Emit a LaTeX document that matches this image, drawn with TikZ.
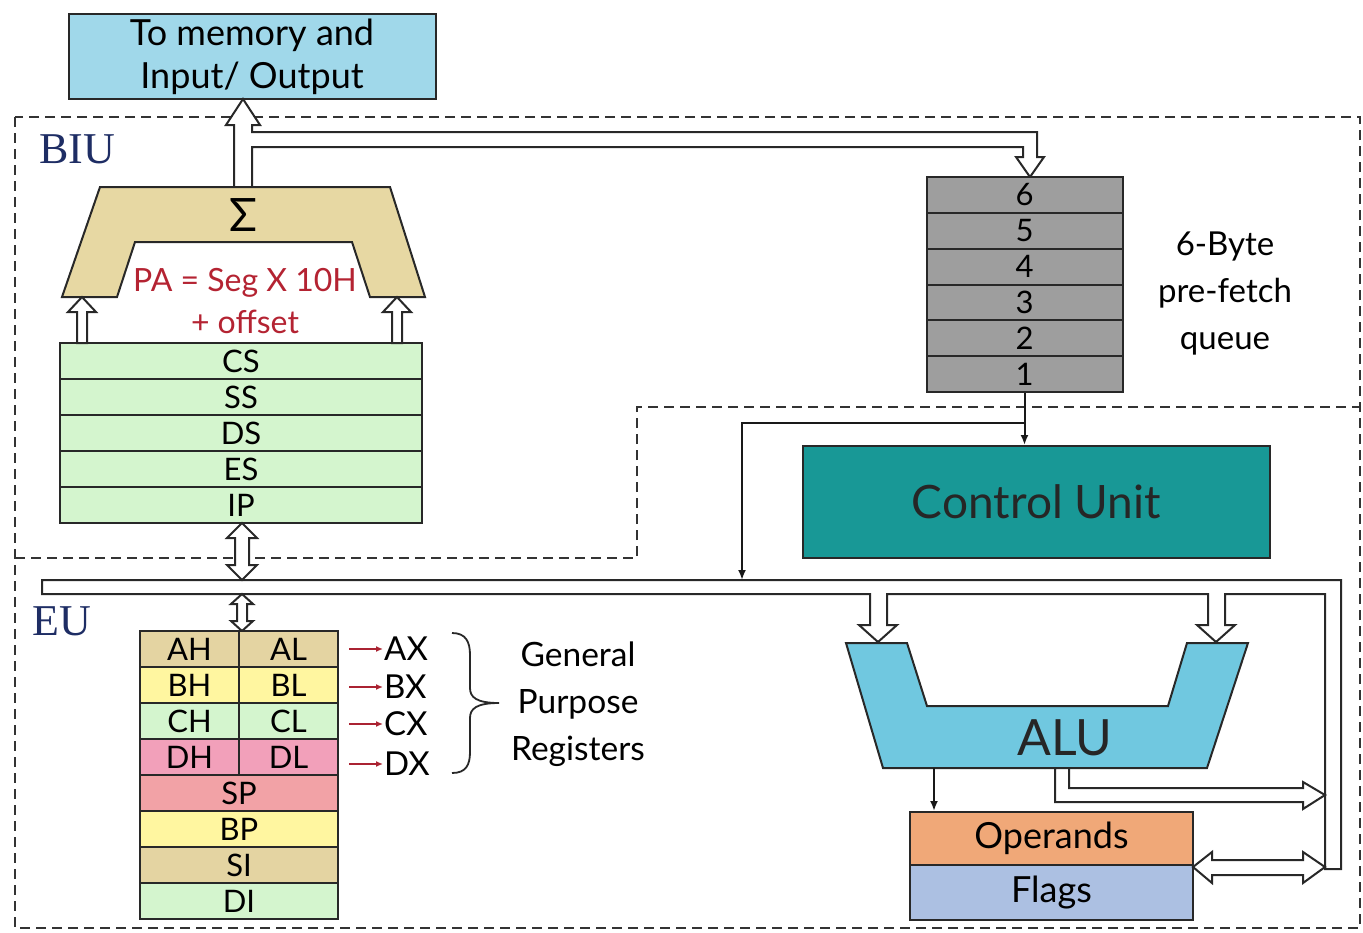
\documentclass[tikz,border=0pt]{standalone}
\usepackage{fontspec}
\setmainfont{Lato}
\newfontfamily\labelfont{Liberation Serif}
\usetikzlibrary{arrows.meta}

\definecolor{memblue}{RGB}{160,216,234}
\definecolor{addtan}{RGB}{231,216,163}
\definecolor{seggreen}{RGB}{212,245,206}
\definecolor{queuegray}{RGB}{158,158,158}
\definecolor{cuteal}{RGB}{24,152,150}
\definecolor{alublue}{RGB}{112,200,224}
\definecolor{opsorange}{RGB}{240,168,120}
\definecolor{flagblue}{RGB}{172,192,226}
\definecolor{regtan}{RGB}{228,212,162}
\definecolor{regyellow}{RGB}{255,246,160}
\definecolor{regpink}{RGB}{242,160,186}
\definecolor{regsalmon}{RGB}{242,162,166}
\definecolor{pared}{RGB}{180,35,50}
\definecolor{arrowred}{RGB}{170,35,50}
\definecolor{navy}{RGB}{30,45,100}
\definecolor{linegray}{RGB}{40,40,40}

\tikzset{
	unit/.style={draw=linegray, line width=2pt},
	reg/.style={unit, minimum height=36pt, inner sep=0pt, font=\fontsize{31}{31}\selectfont},
	hollow/.style={draw=linegray, fill=white, line width=2pt, line join=miter},
	frame/.style={draw=black!80, line width=2.2pt, dash pattern=on 10pt off 6pt},
	thinarrow/.style={draw=black!90, line width=2pt, -{Latex[length=10pt,width=8pt]}},
	redarrow/.style={draw=arrowred, line width=1.6pt, -{Latex[length=7pt,width=6pt]}},
	xlabel/.style={anchor=west, inner sep=1pt, font=\fontsize{33}{33}\selectfont},
}

\begin{document}
\begin{tikzpicture}[x=1pt,y=-1pt]
				\useasboundingbox (0,0) rectangle (1363,932);
				
				% unit borders
				\draw[frame] (15,117) rectangle (1360,928);
				\draw[frame] (15,558) -- (637,558) -- (637,407) -- (1360,407);
				
				\node[unit, fill=memblue, minimum width=367pt, minimum height=85pt, align=center, font=\fontsize{36}{43}\selectfont] (mem) at (252,56.5) {To memory and\\Input/ Output};
				
				\node[text=navy, font=\labelfont\fontsize{44}{44}\selectfont] (biu) at (77,149) {BIU};
				\node[text=navy, font=\labelfont\fontsize{44}{44}\selectfont] (eu) at (62,621) {EU};
				
				% address bus and queue bus
				\draw[hollow] (234,187) -- (234,125) -- (226,125) -- (243,99) -- (260,125) -- (252,125) -- (252,132) -- (1037,132) -- (1037,157) -- (1044,157) -- (1030,177) -- (1016,157) -- (1023,157) -- (1023,147) -- (252,147) -- (252,187) -- cycle;
				
				% adder
				\draw[unit, fill=addtan] (100,187) -- (390,187) -- (425,297) -- (370,297) -- (352,242) -- (135,242) -- (117,297) -- (62,297) -- cycle;
				\node[font=\fontsize{46}{46}\selectfont] (sigma) at (243,215) {Σ};
				\node[text=pared, align=center, font=\fontsize{32}{42}\selectfont] (pa) at (245,301) {PA = Seg X 10H\\+ offset};
				
				% segment registers
				\node[reg, fill=seggreen, minimum width=362pt] (cs) at (241,361) {CS};
				\node[reg, fill=seggreen, minimum width=362pt] (ss) at (241,397) {SS};
				\node[reg, fill=seggreen, minimum width=362pt] (ds) at (241,433) {DS};
				\node[reg, fill=seggreen, minimum width=362pt] (es) at (241,469) {ES};
				\node[reg, fill=seggreen, minimum width=362pt] (ip) at (241,505) {IP};
				
				\draw[hollow] (77,343) -- (77,312) -- (68,312) -- (82,297) -- (96,312) -- (87,312) -- (87,343) -- cycle;
				\draw[hollow] (392,343) -- (392,312) -- (383,312) -- (397,297) -- (411,312) -- (402,312) -- (402,343) -- cycle;
				
				% queue
				\node[reg, fill=queuegray, minimum width=196pt, minimum height=35.8pt] (q6) at (1024.5,194.9) {6};
				\node[reg, fill=queuegray, minimum width=196pt, minimum height=35.8pt] (q5) at (1024.5,230.7) {5};
				\node[reg, fill=queuegray, minimum width=196pt, minimum height=35.8pt] (q4) at (1024.5,266.6) {4};
				\node[reg, fill=queuegray, minimum width=196pt, minimum height=35.8pt] (q3) at (1024.5,302.4) {3};
				\node[reg, fill=queuegray, minimum width=196pt, minimum height=35.8pt] (q2) at (1024.5,338.2) {2};
				\node[reg, fill=queuegray, minimum width=196pt, minimum height=35.8pt] (q1) at (1024.5,374.1) {1};
				\node[align=center, font=\fontsize{33}{47}\selectfont] (qlabel) at (1225,294) {6-Byte\\pre-fetch\\queue};
				
				\node[unit, fill=cuteal, minimum width=467pt, minimum height=112pt, text=black!85, font=\fontsize{46}{46}\selectfont] (cu) at (1036.5,502) {Control Unit};
				
				\draw[thinarrow] (q1.south) -- (q1.south |- cu.north);
				\coordinate (qsplit) at (1024.5,423);
				\coordinate (cubus) at (742,580);
				\draw[thinarrow] (qsplit) -| (cubus);
				
				% EU bus
				\draw[hollow] (42,580) -- (1341,580) -- (1341,869) -- (1325,869) -- (1325,594) -- (1225,594) -- (1225,625) -- (1235,625) -- (1216,642) -- (1197,625) -- (1208,625) -- (1208,594) -- (887,594) -- (887,625) -- (897,625) -- (878,642) -- (859,625) -- (870,625) -- (870,594) -- (42,594) -- cycle;
				
				\draw[hollow] (242,523) -- (257,538) -- (249,538) -- (249,565) -- (257,565) -- (242,580) -- (227,565) -- (235,565) -- (235,538) -- (227,538) -- cycle;
				\draw[hollow] (242,594) -- (253,604) -- (247,604) -- (247,621) -- (253,621) -- (242,631) -- (231,621) -- (237,621) -- (237,604) -- (231,604) -- cycle;
				
				% general purpose registers
				\node[reg, fill=regtan, minimum width=99pt] (ah) at (189.5,649) {AH};
				\node[reg, fill=regtan, minimum width=99pt] (al) at (288.5,649) {AL};
				\node[reg, fill=regyellow, minimum width=99pt] (bh) at (189.5,685) {BH};
				\node[reg, fill=regyellow, minimum width=99pt] (bl) at (288.5,685) {BL};
				\node[reg, fill=seggreen, minimum width=99pt] (ch) at (189.5,721) {CH};
				\node[reg, fill=seggreen, minimum width=99pt] (cl) at (288.5,721) {CL};
				\node[reg, fill=regpink, minimum width=99pt] (dh) at (189.5,757) {DH};
				\node[reg, fill=regpink, minimum width=99pt] (dl) at (288.5,757) {DL};
				\node[reg, fill=regsalmon, minimum width=198pt] (sp) at (239,793) {SP};
				\node[reg, fill=regyellow, minimum width=198pt] (bp) at (239,829) {BP};
				\node[reg, fill=regtan, minimum width=198pt] (si) at (239,865) {SI};
				\node[reg, fill=seggreen, minimum width=198pt] (di) at (239,901) {DI};
				
				\node[xlabel] (ax) at (383,649) {AX};
				\node[xlabel] (bx) at (383,687) {BX};
				\node[xlabel] (cx) at (383,724) {CX};
				\node[xlabel] (dx) at (383,764) {DX};
				\draw[redarrow] (349,649) -- (ax.west);
				\draw[redarrow] (349,687) -- (bx.west);
				\draw[redarrow] (349,724) -- (cx.west);
				\draw[redarrow] (349,764) -- (dx.west);
				
				\draw[draw=linegray, line width=1.8pt] (452,633) .. controls (466,633) and (470,642) .. (470,655) -- (470,688) .. controls (470,697) and (476,703) .. (499,703) .. controls (476,703) and (470,709) .. (470,718) -- (470,752) .. controls (470,765) and (466,773) .. (452,773);
				\node[align=center, font=\fontsize{33.5}{47}\selectfont] (gpr) at (578,704) {General\\Purpose\\Registers};
				
				% ALU
				\draw[unit, fill=alublue] (846,643) -- (907,643) -- (927,706) -- (1168,706) -- (1187,643) -- (1248,643) -- (1207,768) -- (883,768) -- cycle;
				\node[text=black!85, font=\fontsize{50}{50}\selectfont] (alu) at (1065,738) {ALU};
				
				\node[unit, fill=opsorange, minimum width=283pt, minimum height=53pt, font=\fontsize{36}{36}\selectfont] (ops) at (1051.5,838.5) {Operands};
				\node[unit, fill=flagblue, minimum width=283pt, minimum height=55pt, font=\fontsize{36}{36}\selectfont] (flags) at (1051.5,892.5) {Flags};
				
				\coordinate (alubot) at (934,768);
				\draw[thinarrow] (alubot) -- (alubot |- ops.north);
				
				\draw[hollow] (1055,768) -- (1055,802) -- (1303,802) -- (1303,809) -- (1325,795) -- (1303,782) -- (1303,788) -- (1069,788) -- (1069,768) -- cycle;
				\draw[hollow] (1193,867) -- (1212,852) -- (1212,860) -- (1303,860) -- (1303,852) -- (1325,867) -- (1303,883) -- (1303,875) -- (1212,875) -- (1212,883) -- cycle;
\end{tikzpicture}
\end{document}
